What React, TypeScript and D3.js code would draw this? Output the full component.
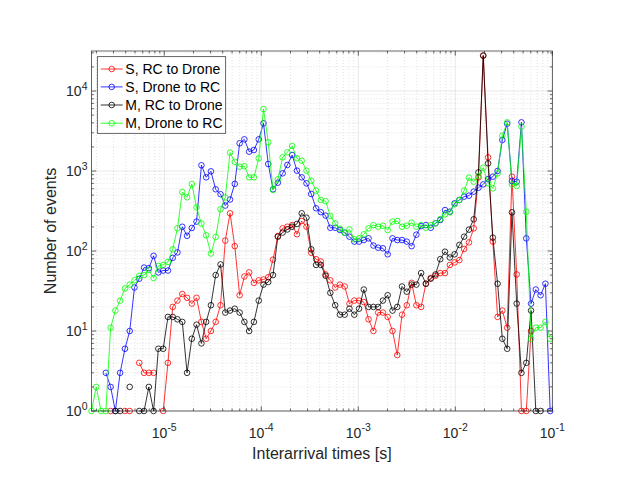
import React from 'react';
import * as d3 from 'd3';

// log10 of the interarrival-time bin positions [s]
const interarrivalExp = [
  -5.750, -5.701, -5.652, -5.602, -5.553, -5.504, -5.455, -5.405, -5.356, -5.307,
  -5.258, -5.208, -5.159, -5.110, -5.061, -5.011, -4.962, -4.913, -4.864, -4.814,
  -4.765, -4.716, -4.667, -4.617, -4.568, -4.519, -4.470, -4.420, -4.371, -4.322,
  -4.273, -4.223, -4.174, -4.125, -4.076, -4.026, -3.977, -3.928, -3.879, -3.829,
  -3.780, -3.731, -3.682, -3.632, -3.583, -3.534, -3.485, -3.435, -3.386, -3.337,
  -3.288, -3.238, -3.189, -3.140, -3.091, -3.041, -2.992, -2.943, -2.894, -2.844,
  -2.795, -2.746, -2.697, -2.647, -2.598, -2.549, -2.500, -2.450, -2.401, -2.352,
  -2.303, -2.253, -2.204, -2.155, -2.106, -2.056, -2.007, -1.958, -1.909, -1.859,
  -1.810, -1.761, -1.712, -1.662, -1.613, -1.564, -1.515, -1.465, -1.416, -1.367,
  -1.318, -1.268, -1.219, -1.170, -1.121, -1.071, -1.022,
];

// Number of events per bin (null = zero events, not drawn on log axis)
const sRcToDrone: (number | null)[] = [
  null, null, null, null, 1, null, null, 1, 1, null,
  4, 3, 3, 3, null, 1, 4, 20, 24, 29,
  26, 22, 26, 13, 8, 10, 13, 21, 135, 296,
  115, 28, 48, 54, 40, 43, 44, 47, 78, 154,
  192, 201, 211, 162, 237, 201, 95, 79, 74, 51,
  43, 35, 38, 36, 22, 24, 24, 23, 14, 10,
  17, 17, 15, 10, 5, 16, 21, 40, 21, 20,
  39, 46, 49, 53, 53, 67, 72, 77, 106, 128,
  192, 833, 27700, 1480, 131, 15, 18, 11, 849, 51,
  1, 1, 10, null, null, null, null,
];

const sDroneToRc: (number | null)[] = [
  null, null, null, 3, 2, 1, 3, 6, 10, 35,
  45, 62, 61, 87, 54, 57, 57, 82, 96, 201,
  155, 194, 233, 1180, 834, 990, 591, 513, 370, 440,
  690, 2218, 2488, 1745, 1830, 2488, 3944, 1223, 591, 714,
  935, 1189, 1585, 1010, 834, 701, 516, 342, 306, 277,
  195, 195, 183, 170, 151, 131, 131, 137, 144, 117,
  110, 108, 91, 144, 137, 137, 131, 115, 160, 205,
  211, 195, 222, 244, 325, 310, 394, 434, 478, 492,
  552, 619, 681, 794, 849, 1000, 2441, 3900, 750, 735,
  4058, 144, 22, 33, 28, 39, 1,
];

const mRcToDrone: (number | null)[] = [
  null, null, null, null, null, 1, 1, null, 2, null,
  1, 1, 2, 1, 6, 6, 15, 15, 14, 13,
  3, 8, 12, 7, 13, 21, 50, 68, 17, 18,
  19, 17, 13, 10, 13, 24, 38, 41, 50, 151,
  170, 186, 201, 218, 296, 261, 105, 67, 67, 49,
  30, 21, 16, 16, 19, 16, 19, 33, 20, 20,
  20, 24, 28, 18, 20, 36, 31, 38, 38, 53,
  39, 45, 51, 79, 98, 83, 91, 119, 151, 185,
  249, 962, 27700, 1247, 147, 39, 8, 6, 304, 22,
  3, 4, 18, 1, 1, null, null,
];

const mDroneToRc: (number | null)[] = [
  1, 2, 1, 1, 11, 18, 24, 34, 38, 43,
  49, 50, 58, 46, 65, 67, 73, 105, 192, 545,
  469, 688, 350, 220, 157, 93, 150, 333, 466, 1700,
  1300, 1130, 1150, 834, 834, 1440, 5950, 2282, 579, 787,
  1482, 1711, 2054, 1440, 1346, 1010, 757, 568, 434, 420,
  274, 222, 190, 168, 186, 140, 144, 162, 192, 211,
  201, 207, 183, 233, 237, 201, 207, 226, 201, 211,
  195, 211, 222, 251, 287, 304, 383, 434, 568, 826,
  735, 866, 1101, 701, 607, 935, 2770, 4058, 681, 650,
  3583, 310, 8, 11, 11, 13, 8,
];

const seriesNames = ['S, RC to Drone', 'S, Drone to RC', 'M, RC to Drone', 'M, Drone to RC'];
const seriesColors = ['#ff0000', '#0000ff', '#000000', '#00ff00'];
const seriesValues = [sRcToDrone, sDroneToRc, mRcToDrone, mDroneToRc];

const xTickExps = [-5, -4, -3, -2, -1];
const yTickExps = [0, 1, 2, 3, 4];
const xLabel = 'Interarrival times [s]';
const yLabel = 'Number of events';

const FONT = 'Liberation Sans, Arial, Helvetica, sans-serif';
const AXIS_COLOR = '#262626';

export default function App() {
  const W = 623;
  const H = 481;
  const left = 91.5;
  const right = 552.3;
  const top = 51;
  const bottom = 411;

  const x = d3.scaleLog().domain([Math.pow(10, -5.75), 0.1]).range([left, right]);
  const y = d3.scaleLog().domain([1, Math.pow(10, 4.5)]).range([bottom, top]);

  const [xd0, xd1] = x.domain();
  const [yd0, yd1] = y.domain();

  const xMinor: number[] = [];
  for (let n = -7; n <= 0; n++) {
    for (let k = 2; k <= 9; k++) {
      const v = k * Math.pow(10, n);
      if (v > xd0 && v < xd1) xMinor.push(v);
    }
  }
  const yMinor: number[] = [];
  for (let n = -1; n <= 5; n++) {
    for (let k = 2; k <= 9; k++) {
      const v = k * Math.pow(10, n);
      if (v > yd0 && v < yd1) yMinor.push(v);
    }
  }

  type Pt = { e: number; v: number | null };
  const line = d3
    .line<Pt>()
    .defined((d) => d.v != null && d.v > 0)
    .x((d) => x(Math.pow(10, d.e)))
    .y((d) => y(d.v as number));

  const legendX = 97.3;
  const legendY = 56.7;
  const legendW = 128.4;
  const legendH = 76.6;
  const legendRows = [69, 86.9, 105, 123.2];
  const markerR = 2.8;

  return (
    <svg
      width={W}
      height={H}
      viewBox={`0 0 ${W} ${H}`}
      style={{ position: 'absolute', left: 0, top: 0, background: '#ffffff' }}
      fontFamily={FONT}
    >
      <rect x={0} y={0} width={W} height={H} fill="#ffffff" />
      <defs>
        <clipPath id="plotClip">
          <rect x={left - 4} y={top - 4} width={right - left + 8} height={bottom - top + 8} />
        </clipPath>
      </defs>

      {/* minor grid */}
      <g stroke={AXIS_COLOR} strokeOpacity={0.22} strokeWidth={0.6} strokeDasharray="1,2">
        {xMinor.map((v, i) => (
          <line key={'xm' + i} x1={x(v)} x2={x(v)} y1={top} y2={bottom} />
        ))}
        {yMinor.map((v, i) => (
          <line key={'ym' + i} x1={left} x2={right} y1={y(v)} y2={y(v)} />
        ))}
      </g>
      {/* major grid */}
      <g stroke={AXIS_COLOR} strokeOpacity={0.15} strokeWidth={0.7}>
        {xTickExps.map((e) => (
          <line key={'xg' + e} x1={x(Math.pow(10, e))} x2={x(Math.pow(10, e))} y1={top} y2={bottom} />
        ))}
        {yTickExps.map((e) => (
          <line key={'yg' + e} x1={left} x2={right} y1={y(Math.pow(10, e))} y2={y(Math.pow(10, e))} />
        ))}
      </g>

      {/* data */}
      <g clipPath="url(#plotClip)">
        {seriesValues.map((vals, s) => {
          const pts: Pt[] = interarrivalExp.map((e, i) => ({ e, v: vals[i] }));
          return (
            <g key={'s' + s}>
              <path d={line(pts) || ''} fill="none" stroke={seriesColors[s]} strokeWidth={0.8} />
              {pts
                .filter((p) => p.v != null && (p.v as number) > 0)
                .map((p, i) => (
                  <circle
                    key={i}
                    cx={x(Math.pow(10, p.e))}
                    cy={y(p.v as number)}
                    r={markerR}
                    fill="none"
                    stroke={seriesColors[s]}
                    strokeWidth={0.8}
                  />
                ))}
            </g>
          );
        })}
      </g>

      {/* axes box */}
      <rect x={left} y={top} width={right - left} height={bottom - top} fill="none" stroke={AXIS_COLOR} strokeWidth={0.7} />

      {/* ticks */}
      <g stroke={AXIS_COLOR} strokeWidth={0.7}>
        {xTickExps.map((e) => {
          const px = x(Math.pow(10, e));
          return (
            <g key={'xt' + e}>
              <line x1={px} x2={px} y1={bottom} y2={bottom - 4.6} />
              <line x1={px} x2={px} y1={top} y2={top + 4.6} />
            </g>
          );
        })}
        {xMinor.map((v, i) => (
          <g key={'xmt' + i}>
            <line x1={x(v)} x2={x(v)} y1={bottom} y2={bottom - 2.4} />
            <line x1={x(v)} x2={x(v)} y1={top} y2={top + 2.4} />
          </g>
        ))}
        {yTickExps.map((e) => {
          const py = y(Math.pow(10, e));
          return (
            <g key={'yt' + e}>
              <line x1={left} x2={left + 4.6} y1={py} y2={py} />
              <line x1={right} x2={right - 4.6} y1={py} y2={py} />
            </g>
          );
        })}
        {yMinor.map((v, i) => (
          <g key={'ymt' + i}>
            <line x1={left} x2={left + 2.4} y1={y(v)} y2={y(v)} />
            <line x1={right} x2={right - 2.4} y1={y(v)} y2={y(v)} />
          </g>
        ))}
      </g>

      {/* tick labels */}
      <g fill={AXIS_COLOR}>
        {xTickExps.map((e) => (
          <text key={'xl' + e} x={x(Math.pow(10, e))} y={437.5} textAnchor="middle">
            <tspan fontSize={14}>10</tspan>
            <tspan fontSize={10.5} dy={-6.5}>{String(e)}</tspan>
          </text>
        ))}
        {yTickExps.map((e) => (
          <text key={'yl' + e} x={87.5} y={y(Math.pow(10, e)) + 5.2} textAnchor="end">
            <tspan fontSize={14}>10</tspan>
            <tspan fontSize={10.5} dy={-6.5}>{String(e)}</tspan>
          </text>
        ))}
      </g>

      {/* axis labels */}
      <text x={(left + right) / 2} y={459.3} textAnchor="middle" fontSize={16} fill={AXIS_COLOR}>
        {xLabel}
      </text>
      <text
        transform={`translate(56,${(top + bottom) / 2}) rotate(-90)`}
        textAnchor="middle"
        fontSize={16}
        fill={AXIS_COLOR}
      >
        {yLabel}
      </text>

      {/* legend */}
      <g>
        <rect x={legendX} y={legendY} width={legendW} height={legendH} fill="#ffffff" stroke={AXIS_COLOR} strokeWidth={0.7} />
        {seriesNames.map((name, i) => (
          <g key={'lg' + i}>
            <line x1={100.7} x2={122.7} y1={legendRows[i]} y2={legendRows[i]} stroke={seriesColors[i]} strokeWidth={0.8} />
            <circle cx={111.7} cy={legendRows[i]} r={markerR} fill="none" stroke={seriesColors[i]} strokeWidth={0.8} />
            <text x={125.3} y={legendRows[i] + 5} fontSize={14} fill="#000000">
              {name}
            </text>
          </g>
        ))}
      </g>
    </svg>
  );
}
